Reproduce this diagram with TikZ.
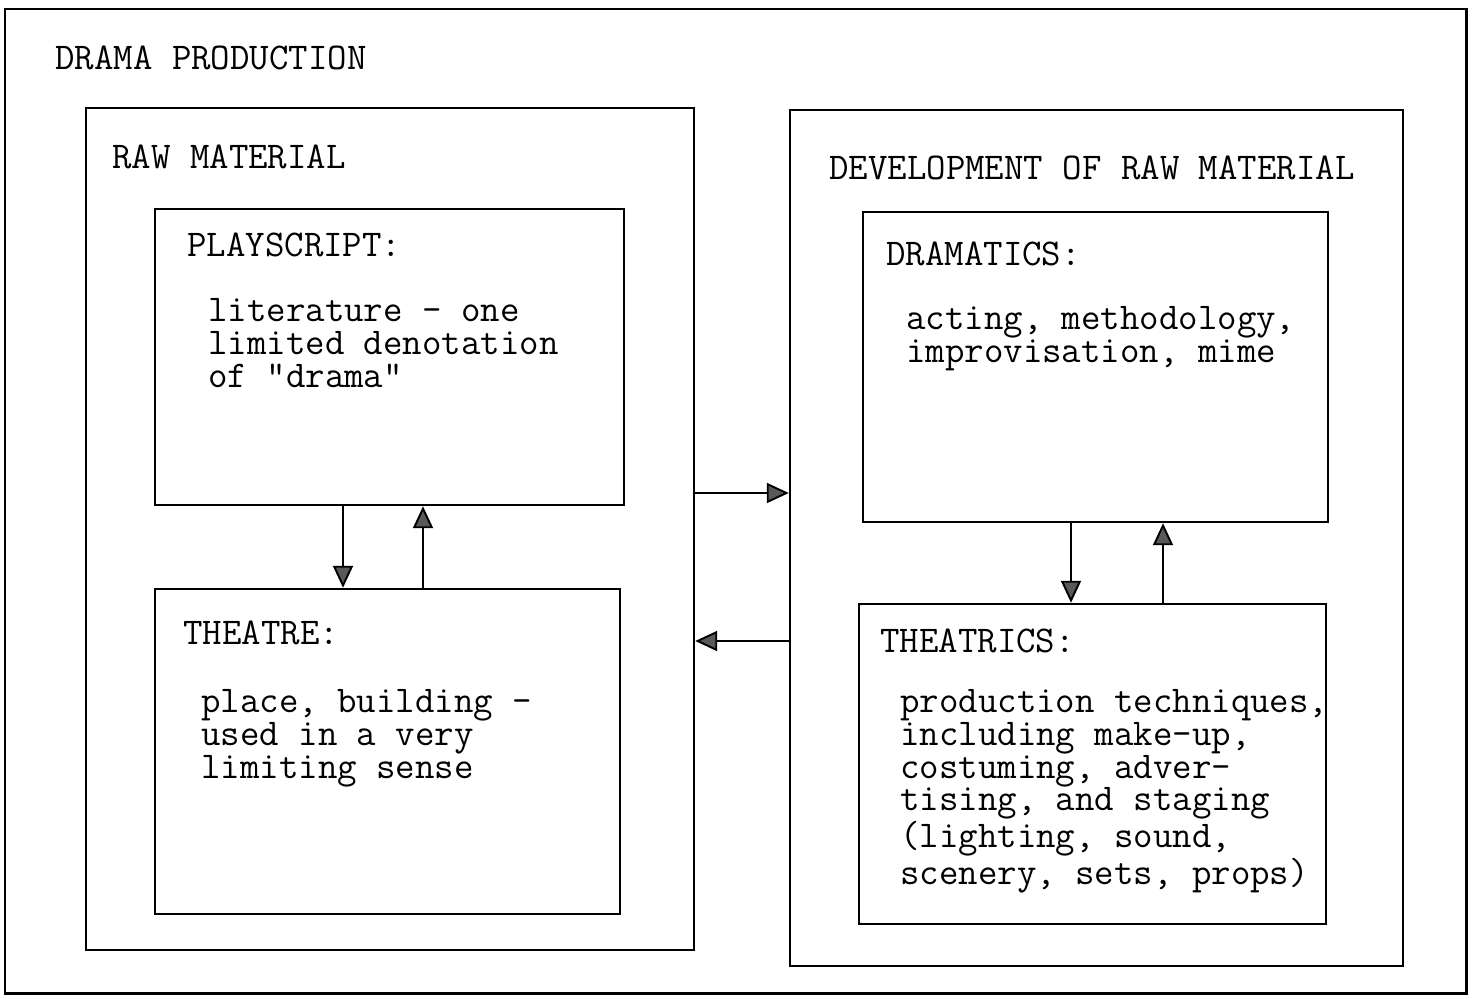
\documentclass[tikz,border=0pt]{standalone}
\usetikzlibrary{arrows.meta,fit}
\begin{document}
\begin{tikzpicture}[x=0.02cm,y=-0.02cm,
  box/.style={draw, line width=1.4pt, inner sep=0pt},
  txt/.style={font=\ttfamily\fontsize{21.5}{18.6}\selectfont, align=left, inner sep=0pt, anchor=base west},
  link/.style={line width=1.1pt, -{Triangle[length=4.4mm,width=4mm,fill=gray!70!black]}}]
\useasboundingbox (0,0) rectangle (1469,1007);
% outer frame
\coordinate (o1) at (5,9); \coordinate (o2) at (1466,993);
\node[box, line width=1.7pt, fit=(o1)(o2)] (outer) {};
% middle boxes
\coordinate (l1) at (86,108); \coordinate (l2) at (694,950);
\node[box, fit=(l1)(l2)] (raw) {};
\coordinate (r1) at (790,110); \coordinate (r2) at (1403,966);
\node[box, fit=(r1)(r2)] (dev) {};
% inner boxes
\coordinate (p1) at (155,209); \coordinate (p2) at (624,505);
\node[box, fit=(p1)(p2)] (play) {};
\coordinate (t1) at (155,589); \coordinate (t2) at (620,914);
\node[box, fit=(t1)(t2)] (theatre) {};
\coordinate (d1) at (863,212); \coordinate (d2) at (1328,522);
\node[box, fit=(d1)(d2)] (dramatics) {};
\coordinate (s1) at (859,604); \coordinate (s2) at (1326,924);
\node[box, fit=(s1)(s2)] (theatrics) {};
% texts (multi-line nodes anchored at the baseline of their last line)
\node[txt] (tdp) at (55,70) {DRAMA PRODUCTION};
\node[txt] (trm) at (112,168) {RAW MATERIAL};
\node[txt] (tdev) at (829,179) {DEVELOPMENT OF RAW MATERIAL};
\node[txt] (tps) at (187,256) {PLAYSCRIPT:};
\node[txt] (tpsb) at (208,387) {literature - one\\limited denotation\\of "drama"};
\node[txt] (tdr) at (886,265) {DRAMATICS:};
\node[txt] (tdrb) at (906,362) {acting, methodology,\\improvisation, mime};
\node[txt] (tth) at (183,644) {THEATRE:};
\node[txt] (tthb) at (201,778) {place, building -\\used in a very\\limiting sense};
\node[txt] (tts) at (880,652) {THEATRICS:};
\node[txt] (ttsb) at (900,884) {production techniques,\\including make-up,\\costuming, adver-\\tising, and staging\\(lighting, sound,\\scenery, sets, props)};
% connectors
\coordinate (xa) at (343,0); \coordinate (xb) at (423,0);
\coordinate (xc) at (1071,0); \coordinate (xd) at (1163,0);
\coordinate (ya) at (0,493); \coordinate (yb) at (0,641);
\draw[link] (play.south -| xa) -- (theatre.north -| xa);
\draw[link] (theatre.north -| xb) -- (play.south -| xb);
\draw[link] (dramatics.south -| xc) -- (theatrics.north -| xc);
\draw[link] (theatrics.north -| xd) -- (dramatics.south -| xd);
\draw[link] (raw.east |- ya) -- (dev.west |- ya);
\draw[link] (dev.west |- yb) -- (raw.east |- yb);
\end{tikzpicture}
\end{document}
